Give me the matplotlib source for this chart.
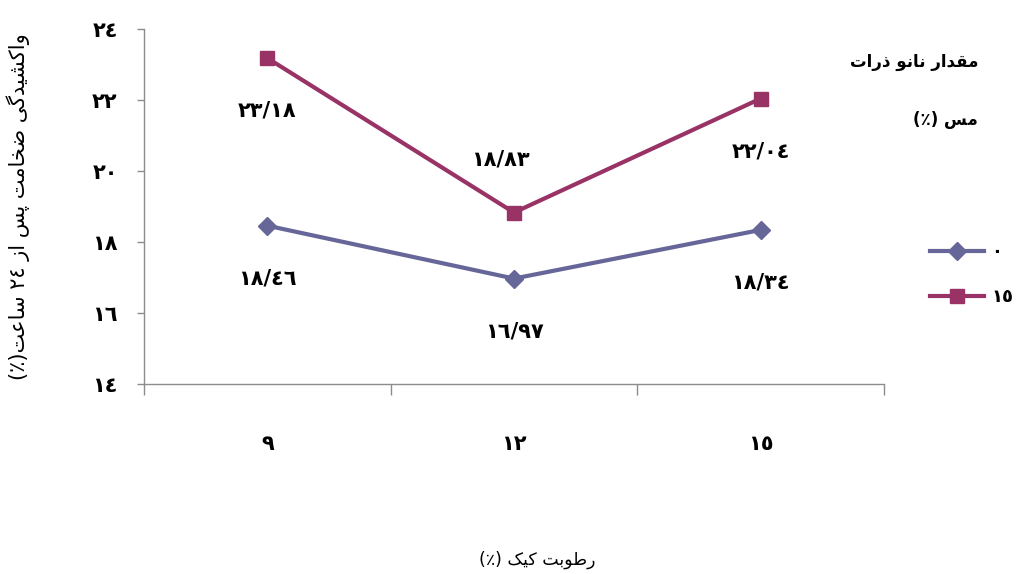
import matplotlib
matplotlib.use('Agg')
import matplotlib.pyplot as plt
from matplotlib.lines import Line2D

# data: swelling after 24 h vs cake moisture, for two nano-copper levels
moisture = ['9', '12', '15']
series_names = ['0', '15']
swell_0 = [18.46, 16.97, 18.34]
swell_15 = [23.18, 18.83, 22.04]
y_ticks = [14, 16, 18, 20, 22, 24]

# matplotlib has no arabic shaping, so pick presentation forms by hand
FORMS = {
    'ا': ('\uFE8D', '\uFE8E'),
    'د': ('\uFEA9', '\uFEAA'),
    'ذ': ('\uFEAB', '\uFEAC'),
    'ر': ('\uFEAD', '\uFEAE'),
    'ز': ('\uFEAF', '\uFEB0'),
    'و': ('\uFEED', '\uFEEE'),
    'ب': ('\uFE8F', '\uFE90', '\uFE91', '\uFE92'),
    'پ': ('\uFB56', '\uFB57', '\uFB58', '\uFB59'),
    'ت': ('\uFE95', '\uFE96', '\uFE97', '\uFE98'),
    'خ': ('\uFEA5', '\uFEA6', '\uFEA7', '\uFEA8'),
    'س': ('\uFEB1', '\uFEB2', '\uFEB3', '\uFEB4'),
    'ش': ('\uFEB5', '\uFEB6', '\uFEB7', '\uFEB8'),
    'ض': ('\uFEBD', '\uFEBE', '\uFEBF', '\uFEC0'),
    'ط': ('\uFEC1', '\uFEC2', '\uFEC3', '\uFEC4'),
    'ع': ('\uFEC9', '\uFECA', '\uFECB', '\uFECC'),
    'ق': ('\uFED5', '\uFED6', '\uFED7', '\uFED8'),
    'ک': ('\uFB8E', '\uFB8F', '\uFB90', '\uFB91'),
    'گ': ('\uFB92', '\uFB93', '\uFB94', '\uFB95'),
    'م': ('\uFEE1', '\uFEE2', '\uFEE3', '\uFEE4'),
    'ن': ('\uFEE5', '\uFEE6', '\uFEE7', '\uFEE8'),
    'ی': ('\uFBFC', '\uFBFD', '\uFBFE', '\uFBFF'),
}
DIGITS = str.maketrans('0123456789', '٠١٢٣٤٥٦٧٨٩')
NUMCHARS = set('٠١٢٣٤٥٦٧٨٩/')


def fa(text):
    text = text.translate(DIGITS)
    shaped = []
    for i, ch in enumerate(text):
        if ch not in FORMS:
            shaped.append(ch)
            continue
        f = FORMS[ch]
        prev = text[i - 1] if i > 0 else ''
        nxt = text[i + 1] if i + 1 < len(text) else ''
        jp = prev in FORMS and len(FORMS[prev]) == 4
        jn = len(f) == 4 and nxt in FORMS
        if jp and jn:
            shaped.append(f[3])
        elif jp:
            shaped.append(f[1])
        elif jn:
            shaped.append(f[2])
        else:
            shaped.append(f[0])
    # right-to-left: reverse, keep number runs in order, mirror brackets
    runs = []
    for ch in shaped:
        if ch in NUMCHARS and runs and runs[-1][0] in NUMCHARS:
            runs[-1] += ch
        else:
            runs.append(ch)
    mirror = {'(': ')', ')': '('}
    return ''.join(mirror.get(r, r) for r in reversed(runs))


def num(v):
    return f'{v:.2f}'.replace('.', '/').translate(DIGITS)


blue = '#666699'
red = '#993366'
grey = '#8c8c8c'
NUM_FS = 15

fig = plt.figure(figsize=(10.18, 5.74), dpi=100)
ax = fig.add_axes([144 / 1018, 1 - 384 / 574, 740 / 1018, 355 / 574])

x = range(len(moisture))
ax.plot(x, swell_0, color=blue, lw=3, marker='D', ms=9, mec=blue, mfc=blue)
ax.plot(x, swell_15, color=red, lw=3, marker='s', ms=10, mec=red, mfc=red)

# value labels (the middle one of the upper series sits above its point)
for xi, v in zip(x, swell_0):
    ax.annotate(num(v), (xi, v), xytext=(0, -38), textcoords='offset points',
                ha='center', va='center', fontsize=NUM_FS, fontweight='bold')
for xi, v in zip(x, swell_15):
    dy, dx = (38, -10) if xi == 1 else (-38, 0)
    ax.annotate(num(v), (xi, v), xytext=(dx, dy), textcoords='offset points',
                ha='center', va='center', fontsize=NUM_FS, fontweight='bold')

ax.set_xlim(-0.5, 2.5)
ax.set_ylim(14, 24)
ax.set_yticks(y_ticks)
ax.set_yticklabels([str(t).translate(DIGITS) for t in y_ticks],
                   fontsize=NUM_FS, fontweight='bold')
ax.tick_params(axis='y', length=5, width=1, color=grey, pad=14)

# category labels centred, tick marks between categories
ax.set_xticks([-0.5, 0.5, 1.5, 2.5])
ax.set_xticklabels([])
ax.set_xticks(list(x), minor=True)
ax.set_xticklabels([m.translate(DIGITS) for m in moisture], minor=True,
                   fontsize=NUM_FS, fontweight='bold')
ax.tick_params(axis='x', which='major', length=8, width=1, color=grey)
ax.tick_params(axis='x', which='minor', length=0, pad=36)

for s in ['top', 'right']:
    ax.spines[s].set_visible(False)
for s in ['left', 'bottom']:
    ax.spines[s].set_color(grey)
    ax.spines[s].set_linewidth(1)

fig.text(18 / 1018, 1 - 207 / 574, fa('واکشیدگی ضخامت پس از 24 ساعت(٪)'),
         rotation=90, ha='center', va='center', fontsize=15)
fig.text(537 / 1018, 1 - 560 / 574, fa('رطوبت کیک (٪)'),
         ha='center', va='center', fontsize=12.5)

# legend with its two-line heading
fig.text(978 / 1018, 1 - 62 / 574, fa('مقدار نانو ذرات'),
         ha='right', va='center', fontsize=12, fontweight='bold')
fig.text(978 / 1018, 1 - 120 / 574, fa('مس (٪)'),
         ha='right', va='center', fontsize=12, fontweight='bold')
handles = [
    Line2D([], [], color=blue, lw=3, marker='D', ms=9),
    Line2D([], [], color=red, lw=3, marker='s', ms=10),
]
fig.legend(handles, [n.translate(DIGITS) for n in series_names],
           loc='upper left', bbox_to_anchor=(930 / 1018, 1 - 243 / 574),
           frameon=False, handlelength=3.0, handletextpad=0.4,
           labelspacing=1.5, borderpad=0, borderaxespad=0,
           prop={'size': 13, 'weight': 'bold'})

fig.savefig('out.png', dpi=100)
